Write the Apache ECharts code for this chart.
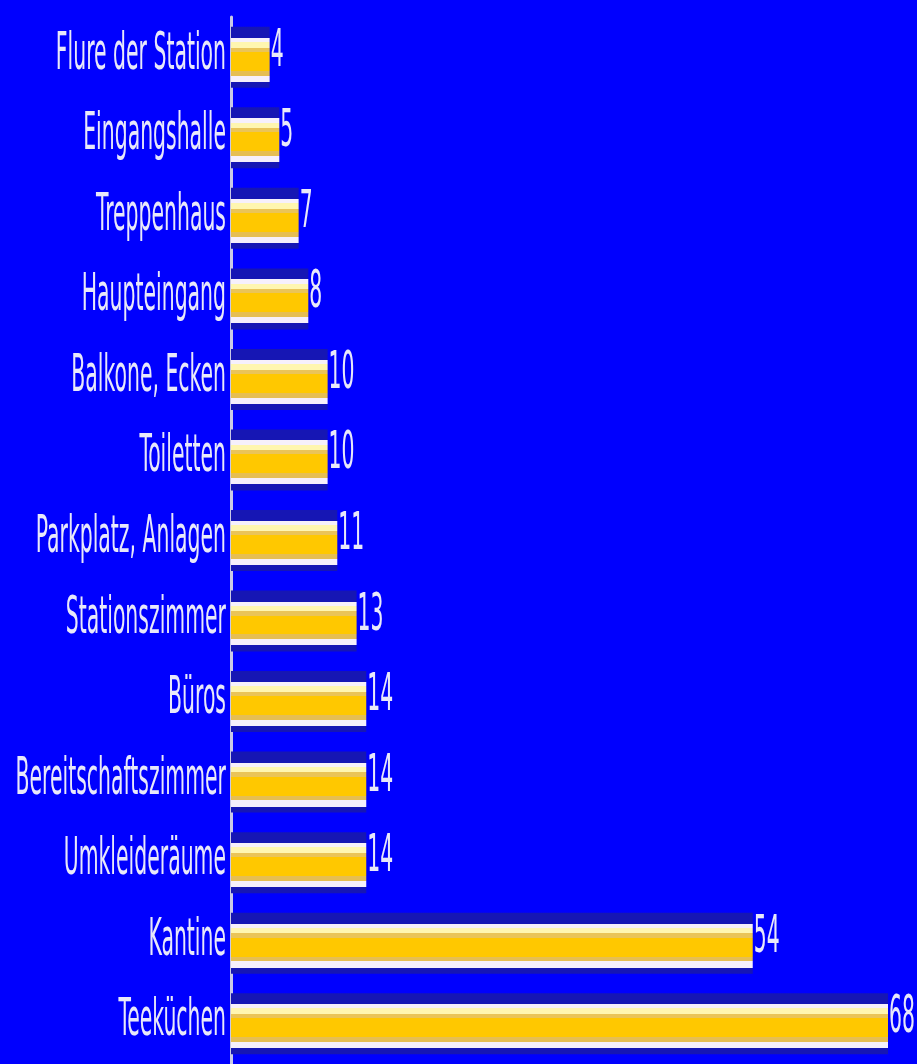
<!DOCTYPE html>
<html>
<head>
<meta charset="utf-8">
<script src="https://cdn.jsdelivr.net/npm/echarts@6/dist/echarts.min.js"></script>
<style>
  html, body { margin: 0; padding: 0; background: #0000fe; overflow: hidden; }
  #chart { width: 917px; height: 1064px; }
</style>
</head>
<body>
<div id="chart"></div>
<script>
// Orte (von oben nach unten) und Anzahl der Nennungen
const places = [
  "Flure der Station", "Eingangshalle", "Treppenhaus", "Haupteingang",
  "Balkone, Ecken", "Toiletten", "Parkplatz, Anlagen", "Stationszimmer",
  "Büros", "Bereitschaftszimmer", "Umkleideräume", "Kantine", "Teeküchen"
];
const counts = [4, 5, 7, 8, 10, 10, 11, 13, 14, 14, 14, 54, 68];

const font = "28px 'DejaVu Sans Condensed', 'Liberation Sans Narrow', sans-serif";
const textColor = "#e8e8fa";
// the old picture was stretched vertically, text is tall and narrow
const stretchX = 0.81;
const stretchY = 1.85;

// bar stripes top -> bottom: dark halo, white, pale yellow, dull gold, gold, dull gold, white, dark halo
const barFill = new echarts.graphic.LinearGradient(0, 0, 0, 1, [
  { offset: 0, color: "#1616b4" },
  { offset: 0.18, color: "#1616b4" },
  { offset: 0.18, color: "#f6f0fc" },
  { offset: 0.25, color: "#f6f0fc" },
  { offset: 0.25, color: "#fff6b0" },
  { offset: 0.34, color: "#fff6b0" },
  { offset: 0.34, color: "#eac458" },
  { offset: 0.41, color: "#eac458" },
  { offset: 0.41, color: "#ffc800" },
  { offset: 0.72, color: "#ffc800" },
  { offset: 0.72, color: "#e6be52" },
  { offset: 0.80, color: "#e6be52" },
  { offset: 0.80, color: "#f6f0fc" },
  { offset: 0.90, color: "#f6f0fc" },
  { offset: 0.90, color: "#1616b4" },
  { offset: 1, color: "#1616b4" },
]);

const chart = echarts.init(document.getElementById("chart"));

// text drawn at a data point, squeezed and stretched like the old picture
function stretchedText(text, x, y, align) {
  return {
    type: "text",
    x,
    y,
    scaleX: stretchX,
    scaleY: stretchY,
    style: {
      text: String(text),
      font,
      fill: textColor,
      align,
      verticalAlign: "middle",
    },
  };
}

chart.setOption({
  backgroundColor: "#0000fe",
  animation: false,
  grid: { left: 231, right: 29, top: 17, bottom: 0, containLabel: false },
  xAxis: {
    type: "value",
    min: 0,
    max: 68,
    show: false,
  },
  yAxis: {
    type: "category",
    data: places,
    inverse: true,
    axisLine: { show: true, lineStyle: { color: "#c8c8e6", width: 3 } },
    axisTick: { show: false },
    splitLine: { show: false },
    axisLabel: { show: false },
  },
  series: [
    {
      type: "bar",
      data: counts,
      barWidth: 61,
      itemStyle: { color: barFill },
    },
    {
      // category names left of the axis
      type: "custom",
      clip: false,
      silent: true,
      data: counts.map((v, i) => [0, i]),
      renderItem: (params, api) => {
        const pt = api.coord([0, api.value(1)]);
        return stretchedText(places[params.dataIndex], pt[0] - 5, pt[1] - 2, "right");
      },
    },
    {
      // value at the end of each bar
      type: "custom",
      clip: false,
      silent: true,
      data: counts.map((v, i) => [v, i]),
      renderItem: (params, api) => {
        const pt = api.coord([api.value(0), api.value(1)]);
        return stretchedText(counts[params.dataIndex], pt[0] + 1, pt[1] - 5, "left");
      },
    },
  ],
});
</script>
</body>
</html>
